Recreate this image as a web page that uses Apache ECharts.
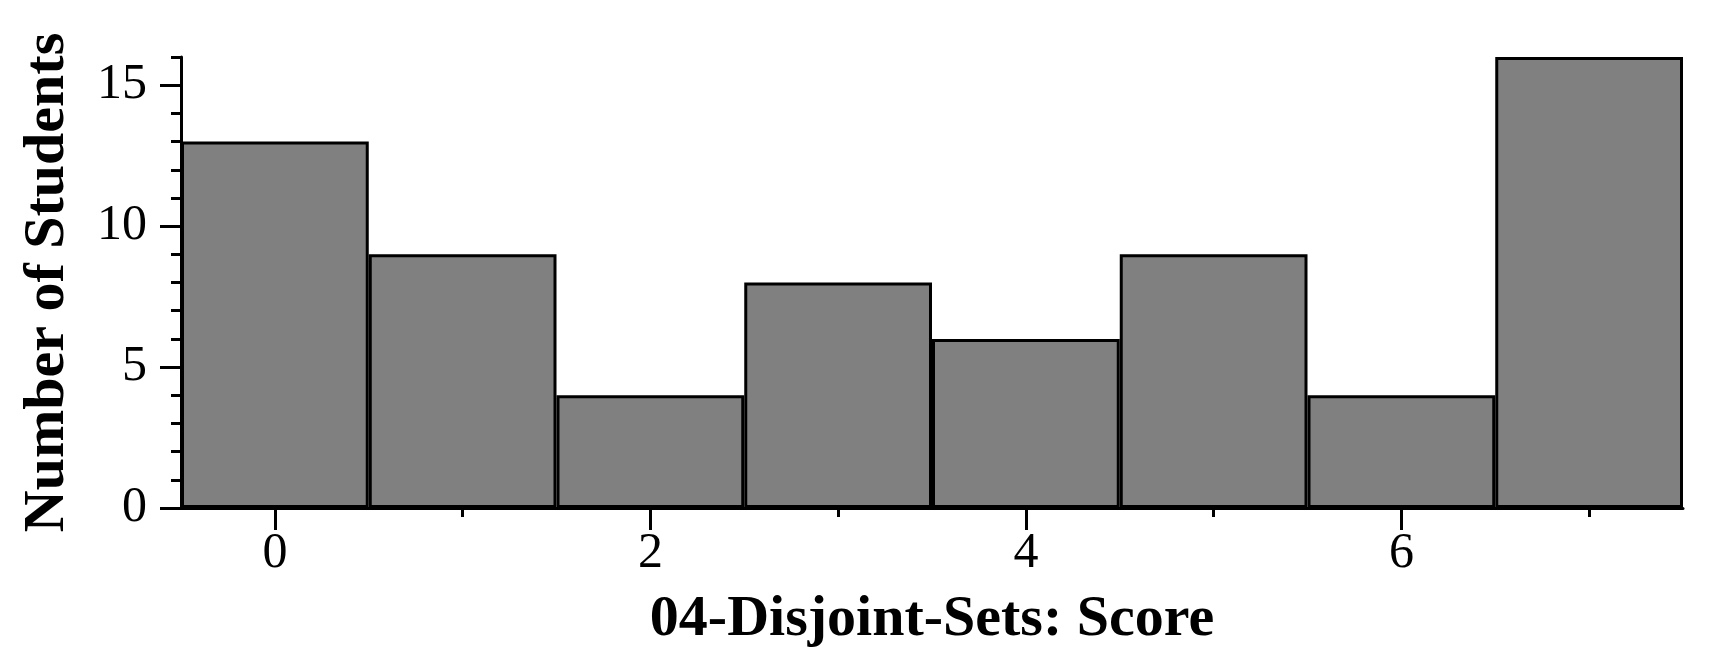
<!DOCTYPE html>
<html>
<head>
<meta charset="utf-8">
<script src="https://cdn.jsdelivr.net/npm/echarts@6/dist/echarts.min.js"></script>
<style>
html,body{margin:0;padding:0;background:#fff;}
#chart{width:1720px;height:670px;}
</style>
</head>
<body>
<div id="chart"></div>
<script>
const scores = ['0','1','2','3','4','5','6','7'];
const counts = [13, 9, 4, 8, 6, 9, 4, 16];
const yMajorTicks = [0, 5, 10, 15];
const yMinorTicks = [0,1,2,3,4,5,6,7,8,9,10,11,12,13,14,15,16];
const xTitle = '04-Disjoint-Sets: Score';
const yTitle = 'Number of Students';

const FONT = 'Liberation Serif';
const chart = echarts.init(document.getElementById('chart'), null, {renderer: 'canvas'});
chart.setOption({
  animation: false,
  backgroundColor: '#ffffff',
  grid: {left: 181, right: 37, top: 57, bottom: 162, containLabel: false},
  xAxis: [
    {
      type: 'category',
      data: scores,
      position: 'bottom',
      boundaryGap: true,
      axisLine: {show: true, lineStyle: {color: '#000', width: 3}},
      axisTick: {show: true, alignWithLabel: true, length: 22, interval: (i) => i % 2 === 0, lineStyle: {color: '#000', width: 3}},
      axisLabel: {show: true, interval: (i) => i % 2 === 0, margin: 21, fontFamily: FONT, fontSize: 50, color: '#000'},
      splitLine: {show: false},
      name: xTitle,
      nameLocation: 'middle',
      nameGap: 83,
      nameTextStyle: {fontFamily: FONT, fontSize: 58, fontWeight: 'bold', color: '#000'}
    },
    {
      type: 'category',
      data: scores,
      position: 'bottom',
      boundaryGap: true,
      axisLine: {show: false},
      axisTick: {show: true, alignWithLabel: true, length: 9, interval: (i) => i % 2 === 1, lineStyle: {color: '#000', width: 3}},
      axisLabel: {show: false},
      splitLine: {show: false}
    }
  ],
  yAxis: [
    {
      type: 'value',
      min: 0, max: 16,
      position: 'left',
      axisLine: {show: true, lineStyle: {color: '#000', width: 3}},
      axisTick: {show: true, length: 21, customValues: yMajorTicks, lineStyle: {color: '#000', width: 3}},
      axisLabel: {show: true, customValues: yMajorTicks, margin: 34, fontFamily: FONT, fontSize: 50, color: '#000'},
      splitLine: {show: false},
      name: yTitle,
      nameLocation: 'middle',
      nameGap: 104,
      nameTextStyle: {fontFamily: FONT, fontSize: 58, fontWeight: 'bold', color: '#000'}
    },
    {
      type: 'value',
      min: 0, max: 16,
      position: 'left',
      axisLine: {show: false},
      axisTick: {show: true, length: 10, customValues: yMinorTicks, lineStyle: {color: '#000', width: 3}},
      axisLabel: {show: false},
      splitLine: {show: false}
    }
  ],
  series: [{
    type: 'bar',
    xAxisIndex: 0,
    yAxisIndex: 0,
    data: counts,
    barWidth: '100%',
    barGap: '0%',
    itemStyle: {color: '#808080', borderColor: '#000', borderWidth: 3},
    z: 1
  }]
});
</script>
</body>
</html>
